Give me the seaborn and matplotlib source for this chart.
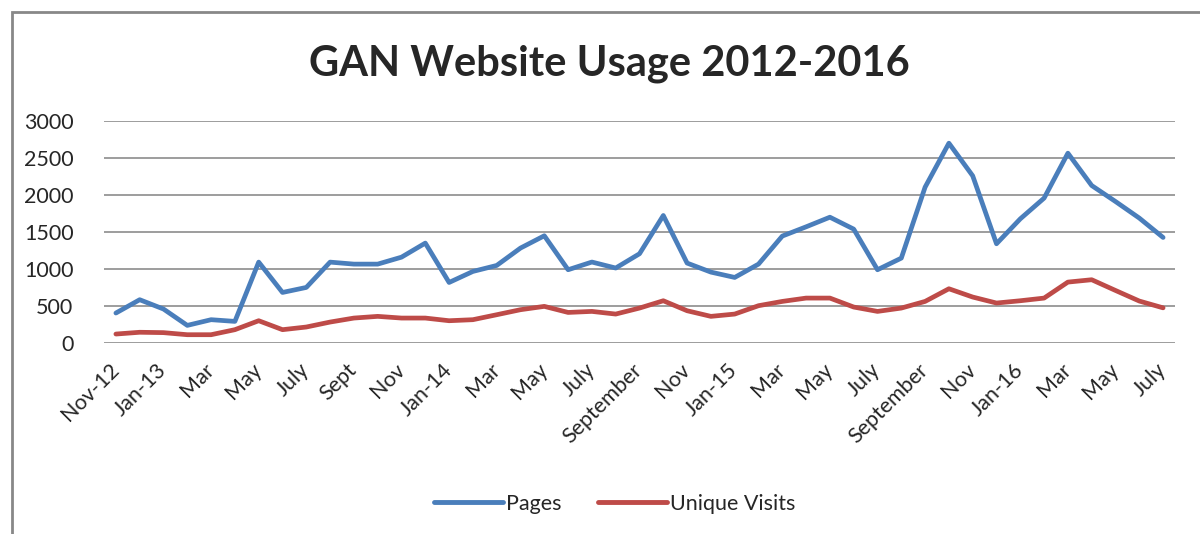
import numpy as np
import pandas as pd
import seaborn as sns
import matplotlib.pyplot as plt
from matplotlib.patches import Rectangle

# monthly values, Nov 2012 .. July 2016
pages = [405, 585, 459, 238, 315, 292, 1093, 683, 751, 1093, 1066, 1066, 1160,
         1350, 818, 967, 1048, 1283, 1449, 990, 1094, 1013, 1206, 1723, 1080,
         958, 886, 1066, 1445, 1570, 1700, 1539, 990, 1147, 2106, 2700, 2259,
         1341, 1678, 1958, 2565, 2128, 1912, 1688, 1426]
unique_visits = [121, 145, 140, 112, 112, 180, 301, 180, 216, 283, 337, 360, 337,
                 337, 301, 315, 382, 450, 495, 413, 427, 391, 472, 571, 436,
                 360, 391, 504, 562, 607, 607, 486, 427, 472, 562, 733, 621,
                 540, 571, 607, 823, 855, 710, 567, 475]
tick_labels = ["Nov-12", "Jan-13", "Mar", "May", "July", "Sept", "Nov", "Jan-14",
               "Mar", "May", "July", "September", "Nov", "Jan-15", "Mar", "May",
               "July", "September", "Nov", "Jan-16", "Mar", "May", "July"]
series_names = ["Pages", "Unique Visits"]
colors = ["#4A7EBB", "#BE4B48"]

n = len(pages)
df = pd.DataFrame({
    "month": list(range(n)) * 2,
    "value": pages + unique_visits,
    "series": [series_names[0]] * n + [series_names[1]] * n,
})

sns.set_style("white")
plt.rcParams['font.family'] = ['Lato', 'DejaVu Sans']

fig = plt.figure(figsize=(12, 5.34), dpi=100)
ax = fig.add_axes([104 / 1200, 1 - 343 / 534, 1071 / 1200, 222 / 534])

sns.lineplot(data=df, x="month", y="value", hue="series",
             palette=colors, linewidth=3.4, ax=ax, legend=False)

ax.set_xlim(-0.5, n - 0.5)
ax.set_ylim(0, 3000)
ax.set_yticks(range(0, 3001, 500))
ax.yaxis.grid(True, color="#8c8c8c", linewidth=1.2)
ax.set_axisbelow(True)
ax.set_xticks(range(0, n, 2))
ax.set_xticklabels(tick_labels, rotation=45, ha="right", va="center",
                   rotation_mode="anchor", fontsize=15.5)
ax.tick_params(axis="y", labelsize=15.5, length=0, pad=22)
ax.tick_params(axis="x", length=0, pad=17)
ax.set_xlabel("")
ax.set_ylabel("")
for s in ["top", "right", "left", "bottom"]:
    ax.spines[s].set_visible(False)

fig.text(0.508, 1 - 64 / 534, "GAN Website Usage 2012-2016", ha="center",
         va="center", fontsize=30, fontweight="bold")

handles = [plt.Line2D([], [], color=c, linewidth=3.5) for c in colors]
fig.legend(handles, series_names, loc="center", bbox_to_anchor=(615 / 1200, 1 - 504 / 534),
           ncol=2, frameon=False, fontsize=15.5, handlelength=3.2,
           handletextpad=0.15, columnspacing=1.7)

# outer chart border
fig.patches.append(Rectangle((12 / 1200, -0.1), 1.2, 1 - 12 / 534 + 0.1,
                             transform=fig.transFigure, fill=False,
                             edgecolor="#888888", linewidth=2))

fig.savefig("out.png", dpi=100)
